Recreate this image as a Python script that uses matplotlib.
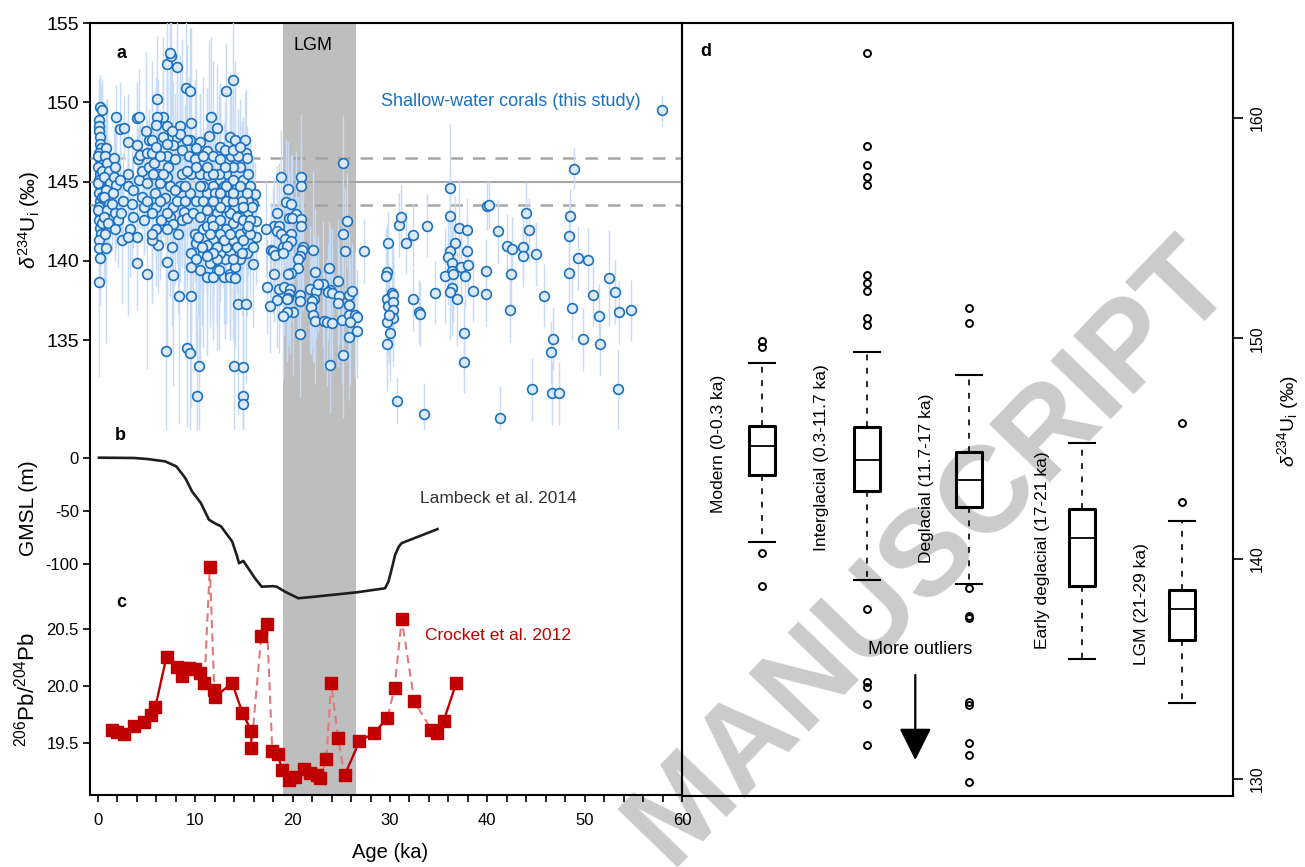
import numpy as np
import matplotlib
matplotlib.use("Agg")
import matplotlib.pyplot as plt
from matplotlib.ticker import MultipleLocator, FormatStrFormatter

plt.rcParams['font.family'] = ['Liberation Sans', 'DejaVu Sans']
plt.rcParams['mathtext.fontset'] = 'custom'
plt.rcParams['mathtext.rm'] = 'Liberation Sans'
plt.rcParams['mathtext.it'] = 'Liberation Sans:italic'
plt.rcParams['mathtext.bf'] = 'Liberation Sans:bold'
plt.rcParams['axes.unicode_minus'] = False

# ---------------- data ----------------
# shallow-water corals: (age ka, d234U initial permil, 2 sigma)
coral_pts = [
    # ~modern
    (0.2,149.7,2),(0.4,149.5,2),(0.1,148.9,2.5),(0.1,148.5,3),(0.1,148.2,2),(0.2,147.8,3),(0.2,147.4,2),
    (0.3,147.1,4),(0.1,146.8,2),(0.2,146.4,3),(0.0,145.9,2),(0.2,145.5,4),(0.1,145.1,2),(0.2,144.7,3),
    (0.1,144.3,2),(0.2,143.8,5),(0.1,143.4,2),(0.2,143.0,3),(0.1,142.6,2),(0.2,142.1,4),(0.3,141.7,2),
    (0.1,141.3,3),(0.1,140.8,2),(0.2,140.2,3),(0.1,138.7,6),(0.0,146.6,2),(0.4,145.7,2),(0.0,144.9,2),
    (0.4,144.0,2),(0.0,143.2,3),(0.4,142.4,2),
    # holocene
    (0.8,147.1,3),(0.7,146.6,2),(0.9,146.2,4),(1.1,145.7,2),(0.6,145.3,3),(1.2,144.9,2),(0.8,144.5,5),
    (0.6,144.0,2),(1.1,143.6,3),(0.9,143.2,2),(0.6,142.8,4),(1.0,142.4,2),(0.7,141.7,3),(0.8,140.8,6),
    (1.6,146.5,2),(1.7,145.9,3),(1.6,145.3,2),(1.9,144.8,4),(1.5,144.3,2),(1.4,143.6,3),(1.7,143.0,2),
    (2.1,142.6,3),(1.9,149.1,2),(2.3,148.3,3),(1.7,142.0,2),(2.5,141.3,4),(2.4,143.0,2),(2.6,143.8,3),
    (2.3,145.1,2),(2.7,148.4,2),(3.1,147.5,3),(3.1,145.5,2),
    (4.0,149.0,2),(4.2,149.1,3),(3.1,144.7,2),(3.5,143.6,4),(3.6,142.8,2),(3.3,142.0,3),(4.0,141.5,2),
    (3.1,141.5,5),(4.0,139.9,3),(3.6,144.5,2),(4.2,145.1,3),(4.1,146.4,2),(4.0,147.3,4),(4.3,146.7,2),
    (4.5,145.7,3),(5.0,139.2,6),(4.7,142.6,2),(4.7,143.4,3),(4.5,144.0,2),(5.0,144.9,4),(5.2,147.6,2),
    (5.2,145.9,3),(5.0,146.8,2),(4.9,148.2,5),
    (6.1,150.2,4),(7.05,152.4,3),(7.5,152.9,4),(7.4,153.1,3),(8.1,152.2,4),(7.0,134.3,6),(9.1,134.5,5),
    (9.45,134.2,6),(8.3,137.8,8),(7.7,139.1,7),(7.05,139.95,6),(7.6,140.9,5),(6.2,141.0,3),(5.5,141.3,4),
    (6.0,142.0,2),(6.5,142.6,3),(6.0,143.4,5),(5.9,144.3,2),(6.4,144.9,3),(6.2,145.5,6),(5.8,146.15,2),
    (5.5,146.8,3),(5.5,147.6,5),(6.0,147.2,2),(6.7,147.8,4),(7.05,148.5,3),(6.7,149.1,5),(6.1,149.05,2),
    (7.05,146.6,6),(7.2,145.9,3),(7.05,145.3,4),(7.4,144.7,7),(6.9,143.95,3),(7.7,143.4,5),(7.4,142.8,3),
    (7.7,142.3,6),(7.05,142.0,4),(8.25,141.7,5),(8.1,147.8,6),(8.4,148.5,4),(8.6,147.0,7),(7.9,146.4,3),
    (8.6,145.5,5),(8.4,144.7,6),(8.1,143.8,4),(8.8,143.1,5),(8.6,142.6,3),(7.7,147.3,4),(8.9,143.8,6),
    (9.0,150.9,5),(9.5,150.7,4),(9.6,148.7,6),(9.45,147.6,3),(9.3,146.6,5),(9.6,145.5,4),(9.45,144.3,6),
    (9.1,142.7,4),(9.8,143.0,5),(9.96,141.7,3),(10.1,141.1,6),(9.6,137.8,7),(5.7,145.5,3),(6.7,145.5,4),
    (6.4,143.8,5),(5.5,143.0,3),(7.9,144.5,6),(7.05,143.0,4),(9.1,145.7,5),(8.9,144.7,3),(10.1,143.8,4),
    (9.96,146.4,5),(9.1,147.6,6),(6.4,146.6,3),(5.0,143.8,2),(5.5,141.7,4),(8.4,148.0,5),(7.6,148.2,4),
    (6.0,148.6,3),(7.05,147.4,5),
    # deglacial
    (10.4,133.4,6),(10.2,131.5,5),(13.97,133.4,6),(14.9,133.3,5),(14.9,131.5,6),(14.9,131.0,5),(14.4,137.3,7),
    (15.2,137.3,5),(13.9,151.4,4),(13.2,150.7,3),(11.6,149.1,5),(12.2,148.4,4),(11.4,147.9,6),(10.5,147.5,3),
    (10.1,147.1,5),(11.2,146.9,4),(11.85,146.6,6),(12.5,146.4,3),(13.6,147.8,4),(14.1,147.6,5),(15.1,147.6,3),
    (15.2,146.8,4),(15.3,146.5,2),(14.6,145.9,3),(13.9,145.9,5),(13.2,145.5,4),(12.5,145.1,6),(11.85,144.7,3),
    (11.2,144.3,5),(10.8,143.8,4),(11.5,143.4,6),(12.2,143.0,3),(12.9,144.7,4),(13.6,144.3,5),(14.25,144.7,3),
    (14.9,145.1,4),(15.4,145.5,2),(15.6,144.7,3),(16.1,144.2,2),(15.96,143.6,3),(15.3,143.0,4),(14.6,142.8,5),
    (13.9,142.4,3),(13.2,142.0,6),(12.5,141.7,4),(11.85,141.3,5),(11.2,141.0,3),(10.8,140.5,6),(11.5,139.85,4),
    (12.2,139.4,5),(12.9,139.0,3),(13.6,139.2,4),(14.1,139.6,5),(14.6,140.1,3),(15.3,140.5,4),(15.9,140.9,3),
    (16.2,142.5,2),(16.2,141.5,3),(15.9,139.8,4),(13.9,141.3,5),(14.25,140.9,3),(13.6,140.5,4),(13.05,140.1,5),
    (12.5,140.5,3),(13.2,140.9,4),(14.6,141.7,3),(15.3,142.0,4),(15.4,143.8,3),(14.8,143.8,5),(14.1,143.4,3),
    (13.6,143.0,4),(12.9,143.4,5),(12.2,143.8,3),(12.0,144.3,4),(12.4,145.5,5),(13.05,145.9,3),(13.7,146.6,4),
    (14.4,146.6,3),(10.5,145.5,5),(11.3,145.4,4),(10.5,142.8,6),(10.8,142.0,4),(10.3,141.5,5),(11.2,142.2,3),
    (11.7,142.6,4),(10.5,139.4,6),(11.2,139.0,5),(11.85,139.0,4),(12.4,139.4,5),(13.6,139.0,4),(14.1,138.9,3),
    (9.6,140.5,5),(9.6,139.6,4),(10.1,140.1,6),(13.9,145.1,3),(14.6,144.7,4),(13.2,143.8,3),(13.9,143.8,4),
    (12.5,143.4,5),(14.25,142.8,3),(14.9,142.6,4),(15.6,142.6,3),(15.6,141.7,4),(14.9,141.3,3),(12.5,142.6,4),
    (11.85,142.2,5),(12.9,141.3,3),(13.6,141.7,4),(12.2,140.9,5),(11.5,141.7,3),(11.85,143.8,4),(11.2,143.2,5),
    (10.8,144.7,3),(11.85,145.5,4),(11.2,145.9,5),(13.2,144.7,3),(12.5,144.3,4),(13.9,144.3,3),(15.3,144.3,4),
    (15.8,143.4,3),(14.9,143.4,4),(15.4,142.2,3),(14.75,140.5,4),(13.9,140.1,5),(12.2,140.1,4),(11.85,140.5,5),
    (11.2,140.3,4),(10.65,140.9,5),(12.5,147.2,4),(13.05,147.0,3),(13.9,147.0,4),(14.6,147.2,3),(10.8,146.6,5),
    (10.1,145.9,4),(10.5,144.7,3),
    # early deglacial / LGM
    (18.77,145.27,3),(20.82,145.27,4),(20.82,144.72,3),(19.49,144.51,3),(19.28,143.71,4),(19.8,143.61,3),
    (18.36,143.0,3),(20.31,142.94,4),(19.62,142.68,3),(19.9,142.68,4),(20.82,142.62,3),(20.89,142.2,3),
    (18.12,142.2,3),(18.6,142.2,4),(17.23,142.01,3),(18.36,141.89,3),(18.8,141.67,4),(19.8,141.67,3),
    (19.21,141.36,4),(19.8,141.25,3),(19.04,140.9,4),(19.38,140.94,3),(21.1,140.86,4),(20.99,140.69,3),
    (17.77,140.69,3),(17.95,140.65,4),(20.75,140.31,3),(20.58,140.1,4),(18.19,140.37,3),(18.97,140.48,3),
    (22.12,140.69,5),(20.51,139.53,4),(19.8,139.22,3),(19.55,139.15,4),(18.08,139.15,3),(22.33,139.28,4),
    (23.73,139.53,3),(24.66,138.73,4),(17.33,138.38,3),(18.6,138.21,4),(19.14,138.33,3),(19.73,138.21,4),
    (19.62,137.91,3),(20.75,137.85,4),(19.49,137.68,3),(19.38,137.6,4),(18.36,137.54,3),(21.78,138.21,4),
    (22.36,138.12,3),(23.15,138.54,4),(22.64,138.54,3),(23.84,138.17,4),(23.63,138.04,3),(24.04,138.0,4),
    (24.76,137.79,3),(25.79,137.85,4),(26.06,138.1,3),(22.16,137.6,4),(21.99,137.47,3),(20.75,137.47,4),
    (21.85,137.12,3),(24.62,137.32,4),(25.79,137.22,3),(17.67,137.18,3),(20.07,136.8,4),(19.45,136.76,3),
    (19.04,136.55,4),(22.12,136.59,3),(22.3,136.23,4),(23.22,136.21,3),(23.49,136.13,4),(24.01,136.11,3),
    (25.03,136.27,4),(25.75,136.59,3),(26.44,136.59,4),(26.58,136.44,3),(25.89,136.17,4),(26.64,135.6,3),
    (25.75,135.22,4),(20.75,135.39,4),(25.21,134.07,4),(23.8,133.44,3),(25.17,146.19,3),(25.55,142.54,3),
    (25.17,141.7,3),(25.38,140.6,4),(27.33,140.62,2),
    # older
    (29.76,141.11,2),(30.89,142.26,2),(31.13,142.79,2),(31.64,141.15,2),(32.33,141.63,2),(33.84,142.22,2),
    (29.73,139.32,3),(29.62,139.05,3),(30.0,135.43,3),(29.66,134.78,3),(29.73,137.58,3),(29.76,137.16,3),
    (30.24,137.96,3),(30.31,137.85,3),(30.27,137.43,3),(30.34,136.9,3),(30.34,136.38,3),(29.66,136.17,3),
    (29.93,136.59,3),(32.33,137.58,2),(33.01,136.8,2),(33.08,136.65,2),(34.59,138.0,2),(30.68,131.19,1.5),
    (33.49,130.33,2),(36.13,144.62,4),(36.17,142.83,3),(37.12,142.1,3),(37.95,141.95,2),(36.68,141.11,3),
    (36.17,140.65,3),(37.88,140.65,2),(35.93,140.22,3),(36.4,139.85,3),(37.3,139.64,2),(38.05,139.74,2),
    (36.34,139.38,3),(35.65,139.05,3),(36.51,139.15,3),(37.71,139.05,2),(36.4,138.27,3),(36.17,138.02,3),
    (36.92,137.62,3),(38.56,138.12,2),(37.6,135.43,2),(37.6,133.65,2),(40.0,143.46,1.5),(40.14,143.52,1.5),
    (41.06,141.89,2),(42.06,140.94,2),(42.53,140.77,2),(39.83,139.38,2),(39.9,137.91,2),(42.47,139.15,2),
    (42.33,136.9,2),(43.63,140.86,2),(43.7,140.33,2),(44.01,143.0,2),(44.28,141.95,2),(44.97,140.43,2),
    (45.82,137.81,2),(44.62,131.9,2),(46.51,134.24,2),(46.71,135.1,2),(46.61,131.65,2),(47.36,131.65,2),
    (41.3,130.1,2),(48.87,145.82,1.3),(48.53,142.81,1.7),(48.39,141.59,2),(48.42,139.22,2),(49.35,140.18,2),
    (50.34,140.08,2),(48.66,137.01,2),(49.86,135.05,2),(50.89,137.87,2),(51.44,136.55,2),(51.54,134.76,2),
    (52.5,138.92,3),(53.12,138.04,2),(53.49,136.76,2),(54.73,136.88,1.9),(53.42,131.92,2.5),(57.95,149.49,1),
]

# sea level (Lambeck et al. 2014)
gmsl_age = [0.1, 3.7, 5.1, 6.9, 8.05, 8.97, 9.66, 10.57, 11.4, 11.95, 12.64, 13.78, 14.25, 14.49,
            14.93, 15.44, 16.13, 16.82, 18.0, 18.36, 19.21, 20.58, 22.0, 26.6, 29.49, 29.84, 30.28,
            30.52, 30.9, 31.2, 34.88]
gmsl_m = [0, -0.3, -1.3, -3.5, -8.2, -19.2, -31.8, -42.8, -58.5, -61.6, -64.8, -79, -91.8, -99.6,
          -97.4, -104.3, -113.8, -121.7, -121.2, -121.7, -126.4, -132.6, -131.4, -127, -123.2, -117,
          -101.2, -91.8, -84, -80.6, -67.4]

# Pb isotopes (Crocket et al. 2012); seg 0 = spike only on dashed line
pb_age = [1.49, 1.95, 2.64, 3.69, 4.70, 5.43, 5.89, 7.04, 8.14, 8.64, 8.73, 9.33, 9.97, 10.43, 10.94,
          11.49, 11.95, 12.04, 13.78, 14.84, 15.75, 15.75, 16.77, 17.36, 17.91, 18.46, 18.92, 19.65,
          20.20, 21.12, 21.81, 22.5, 22.86, 23.46, 23.97, 24.65, 25.34, 26.86, 28.32, 29.74, 30.47,
          31.21, 32.5, 34.24, 34.88, 35.52, 36.81]
pb_ratio = [19.62, 19.60, 19.58, 19.65, 19.69, 19.75, 19.82, 20.26, 20.17, 20.09, 20.16, 20.16, 20.15,
            20.12, 20.03, 21.05, 19.97, 19.91, 20.03, 19.77, 19.61, 19.46, 20.44, 20.55, 19.43, 19.41,
            19.27, 19.18, 19.21, 19.28, 19.24, 19.22, 19.20, 19.36, 20.03, 19.55, 19.22, 19.52, 19.59,
            19.72, 19.99, 20.59, 19.87, 19.62, 19.59, 19.70, 20.03]
pb_seg = [1]*15 + [0] + [1]*6 + [0, 0] + [2]*9 + [0, 0, 0] + [3]*4 + [0, 0, 0] + [4]*4

# box plot summary (d)
box_labels = ['Modern (0-0.3 ka)', 'Interglacial (0.3-11.7 ka)', 'Deglacial (11.7-17 ka)',
              'Early deglacial (17-21 ka)', 'LGM (21-29 ka)']
box_pos = [1, 2, 2.97, 4.05, 5]
box_lo = [140.76, 139.03, 138.84, 135.43, 133.46]
box_q1 = [143.8, 143.07, 142.36, 138.78, 136.31]
box_med = [145.1, 144.5, 143.57, 140.95, 137.73]
box_q3 = [146.0, 145.98, 144.83, 142.24, 138.58]
box_hi = [148.88, 149.4, 148.34, 145.27, 141.71]
box_fliers = [
    [149.9, 149.6, 140.26, 138.76],
    [162.95, 158.73, 157.87, 157.34, 156.96, 152.88, 152.5, 152.13, 150.93, 150.61,
     137.7, 134.42, 134.19, 133.39, 131.54],
    [151.37, 150.69, 138.65, 137.4, 137.29, 133.5, 133.35, 131.62, 131.09, 129.85],
    [],
    [146.17, 142.56],
]

seawater = 145.0
seawater_unc = 1.5
lgm = (19.0, 26.5)

# ---------------- layout ----------------
W, H = 1305, 867
fig = plt.figure(figsize=(W / 100, H / 100), dpi=100)


def rect(x0, y0, x1, y1):
    return [x0 / W, 1 - y1 / H, (x1 - x0) / W, (y1 - y0) / H]


XL = (-0.82, 60)

# watermark
fig.text(930 / W, 1 - 552 / H, 'MANUSCRIPT', rotation=46, fontsize=88, fontweight='bold',
         color='#cbcbcb', ha='center', va='center', zorder=-5, rotation_mode='anchor')

# frame for a-c
ax0 = fig.add_axes(rect(90, 23, 682, 795))
ax0.set_facecolor('none')
ax0.set_xlim(*XL)
ax0.set_ylim(0, 1)
ax0.axvspan(*lgm, color='#bebebe', lw=0, zorder=0)
ax0.set_yticks([])
ax0.xaxis.set_major_locator(MultipleLocator(10))
ax0.xaxis.set_minor_locator(MultipleLocator(2))
ax0.tick_params(axis='x', which='both', direction='out', length=5, width=1.2, labelsize=12, pad=8)
for s in ax0.spines.values():
    s.set_linewidth(1.5)
ax0.text(0.054, 0.961, 'a', transform=ax0.transAxes, fontsize=13, fontweight='bold', ha='center', va='center')
ax0.text(0.052, 0.466, 'b', transform=ax0.transAxes, fontsize=13, fontweight='bold', ha='center', va='center')
ax0.text(0.052, 0.249, 'c', transform=ax0.transAxes, fontsize=13, fontweight='bold', ha='center', va='center')
ax0.text(0.377, 0.9715, 'LGM', transform=ax0.transAxes, fontsize=13, ha='center', va='center')


def overlay(y0, y1):
    ax = fig.add_axes(rect(90, y0, 682, y1))
    ax.set_facecolor('none')
    ax.set_xlim(*XL)
    for s in ax.spines.values():
        s.set_visible(False)
    ax.tick_params(axis='x', which='both', bottom=False, labelbottom=False)
    ax.tick_params(axis='y', direction='out', length=5, width=1.2, pad=3)
    return ax


# a: corals
coral = np.array(coral_pts)
axa = overlay(23, 430)
axa.set_ylim(129.34, 155)
axa.set_yticks([135, 140, 145, 150, 155])
axa.tick_params(axis='y', labelsize=14)
axa.axhline(seawater, color='#a6a6a6', lw=1.5, zorder=1)
for off in (seawater_unc, -seawater_unc):
    axa.axhline(seawater + off, color='#a6a6a6', lw=1.8, ls=(0, (5, 4)), zorder=1)
axa.vlines(coral[:, 0], coral[:, 1] - coral[:, 2], coral[:, 1] + coral[:, 2],
           color='#c6dbf6', lw=1.0, zorder=2)
axa.plot(coral[:, 0], coral[:, 1], 'o', ls='none', ms=7, mfc='#dce9f6', mec='#1a70c1', mew=1.2, zorder=3)
axa.text(0.711, 0.806, 'Shallow-water corals (this study)', transform=axa.transAxes,
         fontsize=13, color='#1a70c1', ha='center', va='center')

# b: sea level
axb = overlay(430, 610)
axb.set_ylim(-143.7, 26.1)
axb.set_yticks([0, -50, -100])
axb.tick_params(axis='y', labelsize=12)
axb.plot(gmsl_age, gmsl_m, color='#1e1e1e', lw=1.9, zorder=3)
axb.text(0.689, 0.617, 'Lambeck et al. 2014', transform=axb.transAxes, fontsize=12.5,
         color='#333333', ha='center', va='center')

# c: Pb isotopes
axc = overlay(555, 795)
axc.set_ylim(19.048, 21.152)
axc.set_yticks([19.5, 20.0, 20.5])
axc.yaxis.set_major_formatter(FormatStrFormatter('%.1f'))
axc.tick_params(axis='y', labelsize=12)
pb_age_a = np.array(pb_age)
pb_ratio_a = np.array(pb_ratio)
pb_seg_a = np.array(pb_seg)
axc.plot(pb_age_a, pb_ratio_a, color='#e07a7a', lw=1.5, ls=(0, (4, 2.5)), zorder=2)
for k in range(1, 5):
    m = pb_seg_a == k
    axc.plot(pb_age_a[m], pb_ratio_a[m], color='#c00000', lw=1.6, zorder=3)
axc.plot(pb_age_a, pb_ratio_a, 's', ls='none', ms=8.5, color='#c00000', zorder=4)
axc.text(0.689, 0.6625, 'Crocket et al. 2012', transform=axc.transAxes, fontsize=12.5,
         color='#c00000', ha='center', va='center')

# axis labels
fig.text(29 / W, 1 - 220 / H, r'$\delta^{234}$U$_{\mathrm{i}}$ (‰)', rotation=90, fontsize=15,
         ha='center', va='center')
fig.text(29 / W, 1 - 508 / H, 'GMSL (m)', rotation=90, fontsize=15, ha='center', va='center')
fig.text(27 / W, 1 - 689 / H, r'$^{206}$Pb/$^{204}$Pb', rotation=90, fontsize=16, ha='center', va='center')
fig.text(390 / W, 1 - 852 / H, 'Age (ka)', fontsize=14.5, ha='center', va='center')

# d: box plots
axd = fig.add_axes(rect(682, 23, 1233, 796))
axd.set_facecolor('none')
axd.set_xlim(0.238, 5.486)
axd.set_ylim(129.23, 164.31)
stats = []
for i in range(len(box_labels)):
    stats.append(dict(med=box_med[i], q1=box_q1[i], q3=box_q3[i], whislo=box_lo[i],
                      whishi=box_hi[i], fliers=box_fliers[i]))
axd.bxp(stats, positions=box_pos, widths=0.25, capwidths=0.25, showfliers=True,
        boxprops=dict(lw=2.2, color='k'), medianprops=dict(color='k', lw=1.3),
        whiskerprops=dict(lw=1.2, ls=(0, (3.5, 4.5)), color='k'), capprops=dict(lw=1.5, color='k'),
        flierprops=dict(marker='o', mfc='none', mec='k', ms=5, mew=1.4))
axd.set_xticks([])
axd.yaxis.tick_right()
axd.set_yticks([130, 140, 150, 160])
axd.tick_params(axis='y', direction='out', length=7, width=1.2, labelsize=11.5, pad=5, labelrotation=90)
for lbl in axd.get_yticklabels():
    lbl.set_va('center')
for s in axd.spines.values():
    s.set_linewidth(1.5)
axd.text(0.0436, 0.9625, 'd', transform=axd.transAxes, fontsize=13, fontweight='bold', ha='center', va='center')

label_xy = [(0.59, 145.21), (1.571, 144.57), (2.562, 143.66), (3.676, 140.40), (4.619, 137.94)]
for (lx, ly), txt in zip(label_xy, box_labels):
    axd.text(lx, ly, txt, rotation=90, fontsize=12.5, ha='center', va='center')

axd.text(2.505, 135.9, 'More outliers', fontsize=13, ha='center', va='center')
axd.annotate('', xy=(2.46, 130.86), xytext=(2.46, 134.72),
             arrowprops=dict(arrowstyle='-|>,head_length=0.8,head_width=0.4', lw=1.6,
                             color='k', mutation_scale=25, shrinkA=0, shrinkB=0))

fig.text(1288 / W, 1 - 421 / H, r'$\delta^{234}$U$_{\mathrm{i}}$ (‰)', rotation=90, fontsize=14,
         ha='center', va='center')

fig.savefig('out.png', dpi=100, facecolor='white')
